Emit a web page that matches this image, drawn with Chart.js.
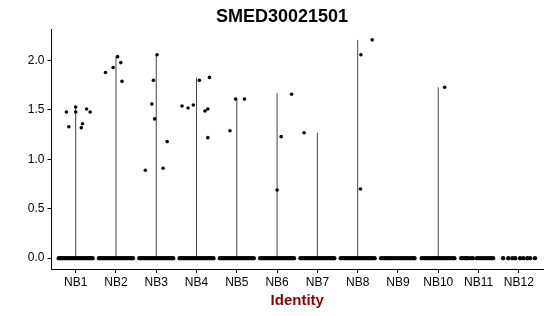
<!DOCTYPE html>
<html><head><meta charset="utf-8">
<script src="https://cdn.jsdelivr.net/npm/chart.js@4"></script>
<style>html,body{margin:0;padding:0;background:#fff}#w{width:550px;height:316px}</style>
</head><body><div id="w"><canvas id="c"></canvas></div>
<script>
const categories = ["NB1","NB2","NB3","NB4","NB5","NB6","NB7","NB8","NB9","NB10","NB11","NB12"];
const yTicks = [0, 0.5, 1.0, 1.5, 2.0];
// violin extent (max expression) per cluster
const violinMax = [1.53, 2.04, 2.06, 1.83, 1.61, 1.67, 1.27, 2.21, 0, 1.73, 0, 0];
// non-zero cells: cluster index (1-based), jitter offset, value
const ptGroup  = [1,1,1,1,1,1,1,1, 2,2,2,2,2, 3,3,3,3,3,3,3, 4,4,4,4,4,4,4,4, 5,5,5, 6,6,6, 7, 8,8,8, 10];
const ptJitter = [-0.23,-0.17,0,0,0.14,0.17,0.27,0.36, -0.26,-0.07,0.04,0.12,0.15, -0.27,-0.11,-0.07,-0.04,0.02,0.17,0.27, -0.36,-0.21,-0.08,0.07,0.21,0.28,0.28,0.32, -0.17,-0.03,0.19, 0,0.1,0.36, -0.33, 0.08,0.07,0.36, 0.16];
const ptValue  = [1.48,1.33,1.53,1.48,1.32,1.36,1.51,1.48, 1.88,1.93,2.04,1.98,1.79, 0.89,1.56,1.80,1.41,2.06,0.91,1.18, 1.54,1.52,1.55,1.80,1.49,1.51,1.22,1.83, 1.29,1.61,1.61, 0.69,1.23,1.66, 1.27, 2.06,0.70,2.21, 1.73];
// zero-expression cells: jitter offsets per cluster
const denseJitter = [-0.42,-0.38,-0.34,-0.30,-0.26,-0.22,-0.18,-0.14,-0.10,-0.06,-0.02,0.02,0.06,0.10,0.14,0.18,0.22,0.26,0.30,0.34,0.38,0.42];
const nb9Jitter  = [-0.42,-0.37,-0.33,-0.28,-0.24,-0.19,-0.15,-0.10,-0.05,0.0,0.05,0.10,0.14,0.19,0.24,0.29,0.33,0.38,0.41];
const nb10Jitter = [-0.41,-0.36,-0.31,-0.27,-0.22,-0.17,-0.12,-0.08,-0.03,0.02,0.07,0.12,0.17,0.21,0.26,0.31,0.36,0.40];
const nb11Jitter = [-0.43,-0.39,-0.34,-0.30,-0.26,-0.19,-0.14,-0.04,0.01,0.06,0.11,0.16,0.21,0.26,0.31,0.36];
const nb12Jitter = [-0.39,-0.26,-0.16,-0.09,0.03,0.11,0.21,0.28,0.40];
const zeroJitter = [denseJitter,denseJitter,denseJitter,denseJitter,denseJitter,denseJitter,denseJitter,denseJitter,nb9Jitter,nb10Jitter,nb11Jitter,nb12Jitter];

const datasets = [];
violinMax.forEach((m,i)=>{
  if (m>0) datasets.push({type:'scatter', data:[{x:i+1,y:0},{x:i+1,y:m}], showLine:true, borderColor:'#444', borderWidth:1, pointRadius:0, order:2});
});
const zeroPts = [];
zeroJitter.forEach((arr,i)=>arr.forEach(j=>zeroPts.push({x:i+1+j,y:0})));
datasets.push({type:'scatter', data:zeroPts, backgroundColor:'#000', borderWidth:0, pointRadius:2.2, order:1});
datasets.push({type:'scatter', data:ptValue.map((v,k)=>({x:ptGroup[k]+ptJitter[k], y:v})), backgroundColor:'#000', borderWidth:0, pointRadius:1.8, order:1});

const titlePlugin = {id:'ttl', afterDraw(ch){const c=ch.ctx;c.save();c.font='bold 18px "Liberation Sans", Arial, sans-serif';c.fillStyle='#000';c.textAlign='center';c.textBaseline='alphabetic';c.fillText('SMED30021501',282,22);c.restore();}};

new Chart(document.getElementById('c'), {
  type:'scatter',
  data:{datasets},
  options:{
    responsive:true, maintainAspectRatio:false, animation:false,
    layout:{padding:{top:29,right:7,left:0,bottom:0}},
    plugins:{legend:{display:false}, tooltip:{enabled:false}},
    scales:{
      x:{type:'linear', min:0.4, max:12.6,
        afterBuildTicks(s){s.ticks=categories.map((_,i)=>({value:i+1}));},
        afterFit(s){s.height=47;},
        ticks:{callback:(v)=>categories[Math.round(v)-1], color:'#000', font:{size:12,family:'"Liberation Sans", Arial, sans-serif'}, padding:2, maxRotation:0, autoSkip:false},
        grid:{drawOnChartArea:false, tickLength:4, color:'#000'},
        border:{display:true, color:'#000', width:1},
        title:{display:true, text:'Identity', color:'#8B0000', font:{size:15, weight:'bold', family:'"Liberation Sans", Arial, sans-serif'}, padding:{top:2,bottom:6}}
      },
      y:{type:'linear', min:-0.11, max:2.32,
        afterBuildTicks(s){s.ticks=yTicks.map(v=>({value:v}));},
        afterFit(s){s.width=51.5;},
        ticks:{callback:(v)=>v.toFixed(1), color:'#000', font:{size:12,family:'"Liberation Sans", Arial, sans-serif'}, padding:3},
        grid:{drawOnChartArea:false, tickLength:4, color:'#000'},
        border:{display:true, color:'#000', width:1}
      }
    }
  },
  plugins:[titlePlugin]
});
</script></body></html>
